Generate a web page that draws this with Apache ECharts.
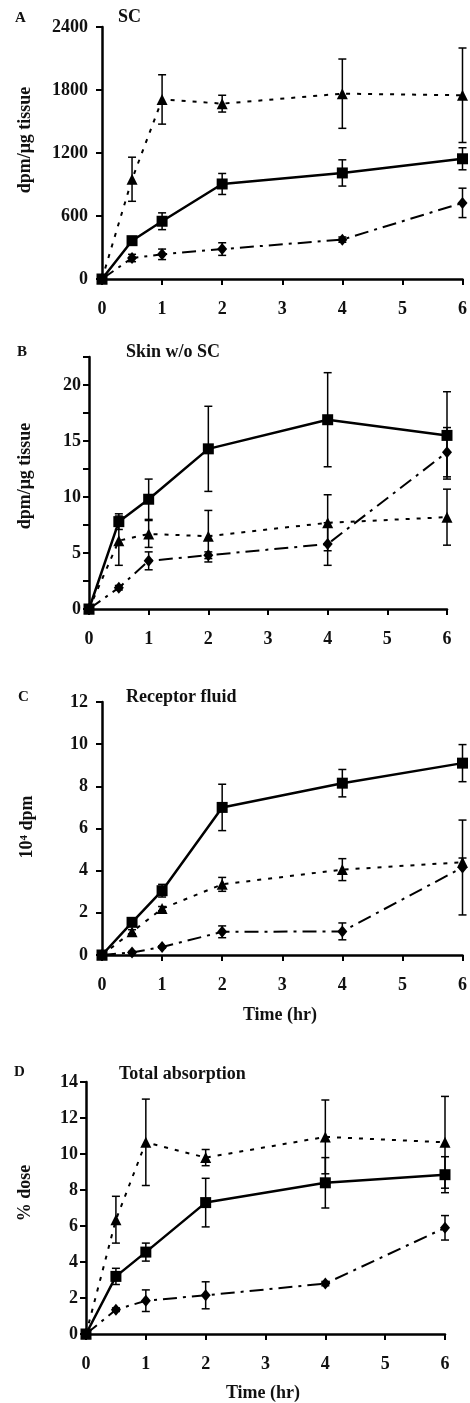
<!DOCTYPE html>
<html>
<head>
<meta charset="utf-8">
<script src="https://cdn.jsdelivr.net/npm/echarts@6/dist/echarts.min.js"></script>
<style>
html,body{margin:0;padding:0;background:#fff;}
#chart{width:470px;height:1403px;}
</style>
</head>
<body>
<div id="chart"></div>
<script>
// ---- data ----
const time = [0, 0.5, 1, 2, 4, 6];
const xTickLabels = ['0','1','2','3','4','5','6'];

// Panel A: SC (dpm/µg tissue)
const scSquare      = [0, 365, 550, 905, 1010, 1145];
const scSquareErr   = [0, 25, 80, 100, 125, 105];
const scTriangle    = [0, 950, 1710, 1670, 1765, 1750];
const scTriangleErr = [0, 210, 235, 80, 330, 450];
const scDiamond     = [0, 200, 235, 285, 375, 725];
const scDiamondErr  = [0, 35, 50, 60, 25, 140];

// Panel B: Skin w/o SC (dpm/µg tissue)
const skSquare      = [0, 7.8, 9.8, 14.3, 16.9, 15.5];
const skSquareErr   = [0, 0.7, 1.8, 3.8, 4.2, 3.9];
const skTriangle    = [0, 6.1, 6.7, 6.5, 7.7, 8.2];
const skTriangleErr = [0, 2.2, 1.2, 2.3, 2.5, 2.5];
const skDiamond     = [0, 1.9, 4.3, 4.8, 5.8, 14.0];
const skDiamondErr  = [0, 0.2, 0.8, 0.3, 1.9, 2.2];

// Panel C: Receptor fluid (10^4 dpm)
const rfSquare      = [0, 1.55, 3.05, 7.0, 8.15, 9.1];
const rfSquareErr   = [0, 0.15, 0.3, 1.1, 0.65, 0.88];
const rfTriangle    = [0, 1.1, 2.2, 3.35, 4.05, 4.4];
const rfTriangleErr = [0, 0.1, 0.1, 0.33, 0.52, 0.2];
const rfDiamond     = [0, 0.12, 0.38, 1.1, 1.12, 4.15];
const rfDiamondErr  = [0, 0.05, 0.05, 0.28, 0.4, 2.25];

// Panel D: Total absorption (% dose)
const taSquare      = [0, 3.2, 4.55, 7.3, 8.4, 8.85];
const taSquareErr   = [0, 0.45, 0.5, 1.35, 1.4, 1.0];
const taTriangle    = [0, 6.35, 10.65, 9.8, 10.95, 10.65];
const taTriangleErr = [0, 1.3, 2.4, 0.45, 2.05, 2.55];
const taDiamond     = [0, 1.35, 1.85, 2.15, 2.8, 5.9];
const taDiamondErr  = [0, 0.1, 0.6, 0.75, 0.12, 0.68];

// ---- layout / styling ----
const FONT = '"Liberation Serif", "DejaVu Serif", serif';
const panels = [
  {grid:{left:102, top:27, width:361, height:252}, y:{max:2400, interval:600},
   sq:scSquare, sqE:scSquareErr, tr:scTriangle, trE:scTriangleErr, di:scDiamond, diE:scDiamondErr, yMargin:14},
  {grid:{left:89, top:357, width:358, height:252}, y:{max:22.5, interval:2.5, every:5},
   sq:skSquare, sqE:skSquareErr, tr:skTriangle, trE:skTriangleErr, di:skDiamond, diE:skDiamondErr, yMargin:8},
  {grid:{left:102, top:702, width:361, height:253}, y:{max:12, interval:2},
   sq:rfSquare, sqE:rfSquareErr, tr:rfTriangle, trE:rfTriangleErr, di:rfDiamond, diE:rfDiamondErr, yMargin:14},
  {grid:{left:86, top:1082, width:359, height:252}, y:{max:14, interval:2},
   sq:taSquare, sqE:taSquareErr, tr:taTriangle, trE:taTriangleErr, di:taDiamond, diE:taDiamondErr, yMargin:8}
];

function pairs(ys){ return time.map((t,i)=>[t, ys[i]]); }
function triples(ys, es){ return time.map((t,i)=>[t, ys[i], es[i]]); }

function errRender(params, api){
  const x = api.value(0), y = api.value(1), e = api.value(2);
  if (!e) return null;
  const top = api.coord([x, y + e]);
  const bot = api.coord([x, y - e]);
  const w = 4;
  const st = {stroke:'#000', lineWidth:1.5};
  return {type:'group', children:[
    {type:'line', shape:{x1:top[0], y1:top[1], x2:bot[0], y2:bot[1]}, style:st},
    {type:'line', shape:{x1:top[0]-w, y1:top[1], x2:top[0]+w, y2:top[1]}, style:st},
    {type:'line', shape:{x1:bot[0]-w, y1:bot[1], x2:bot[0]+w, y2:bot[1]}, style:st}
  ]};
}

const grids = [], xAxes = [], yAxes = [], series = [];
panels.forEach((p, k) => {
  grids.push(p.grid);
  xAxes.push({
    type:'value', gridIndex:k, min:0, max:6, interval:1,
    axisLine:{lineStyle:{color:'#000', width:2.5}},
    axisTick:{inside:false, length:6, lineStyle:{color:'#000', width:2}},
    axisLabel:{margin:21, fontFamily:FONT, fontWeight:'bold', fontSize:18, color:'#111',
      formatter:(v)=>xTickLabels[Math.round(v)]},
    splitLine:{show:false}
  });
  yAxes.push({
    type:'value', gridIndex:k, min:0, max:p.y.max, interval:p.y.interval,
    axisLine:{show:true, lineStyle:{color:'#000', width:2.5}},
    axisTick:{show:true, inside:false, length:6, lineStyle:{color:'#000', width:2}},
    axisLabel:{margin:p.yMargin, fontFamily:FONT, fontWeight:'bold', fontSize:18, color:'#111',
      formatter:(v)=>{ if (p.y.every && Math.abs(v/p.y.every - Math.round(v/p.y.every))>1e-6) return ''; return String(v); }},
    splitLine:{show:false}
  });
  const common = {type:'line', xAxisIndex:k, yAxisIndex:k, showSymbol:true, animation:false,
    itemStyle:{color:'#000'}, z:3};
  series.push(Object.assign({}, common, {name:'triangle', data:pairs(p.tr), symbol:'triangle', symbolSize:11,
    lineStyle:{color:'#000', width:2, type:[4,7]}}));
  series.push(Object.assign({}, common, {name:'diamond', data:pairs(p.di), symbol:'diamond', symbolSize:[10,12],
    lineStyle:{color:'#000', width:2, type:[14,6,3,6]}}));
  series.push(Object.assign({}, common, {name:'square', data:pairs(p.sq), symbol:'rect', symbolSize:11,
    lineStyle:{color:'#000', width:2.5, type:'solid'}}));
  [[p.tr,p.trE],[p.di,p.diE],[p.sq,p.sqE]].forEach(([v,e])=>{
    series.push({type:'custom', xAxisIndex:k, yAxisIndex:k, renderItem:errRender, data:triples(v,e),
      animation:false, z:4, encode:{x:0, y:1}});
  });
});

function txt(x, y, text, size, opts){
  return Object.assign({type:'text', x:x, y:y, silent:true,
    style:{text:text, font:'bold ' + size + 'px ' + FONT, fill:'#111', align:'left', verticalAlign:'middle'}}, opts||{});
}
function rtxt(x, y, text){
  return {type:'text', x:x, y:y, rotation:Math.PI/2, silent:true,
    style:{text:text, font:'bold 18px ' + FONT, fill:'#111', align:'center', verticalAlign:'middle'}};
}

const graphics = [
  txt(15, 18, 'A', 15), txt(118, 17, 'SC', 18),
  txt(17, 352, 'B', 15), txt(126, 352, 'Skin w/o SC', 18),
  txt(18, 697, 'C', 15), txt(126, 697, 'Receptor fluid', 18),
  txt(14, 1072, 'D', 15), txt(119, 1074, 'Total absorption', 18),
  rtxt(25, 140, 'dpm/\u03bcg tissue'),
  rtxt(25, 476, 'dpm/\u03bcg tissue'),
  rtxt(27, 827, '10\u2074 dpm'),
  rtxt(25, 1193, '% dose'),
  {type:'text', x:280, y:1015, silent:true, style:{text:'Time (hr)', font:'bold 18px ' + FONT, fill:'#111', align:'center', verticalAlign:'middle'}},
  {type:'text', x:263, y:1393, silent:true, style:{text:'Time (hr)', font:'bold 18px ' + FONT, fill:'#111', align:'center', verticalAlign:'middle'}}
];

const chart = echarts.init(document.getElementById('chart'), null, {renderer:'canvas'});
chart.setOption({
  backgroundColor:'#fff',
  animation:false,
  grid:grids, xAxis:xAxes, yAxis:yAxes, series:series,
  graphic:graphics
});
</script>
</body>
</html>
